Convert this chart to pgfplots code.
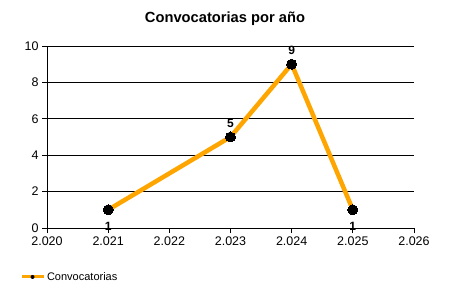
\documentclass[border=0pt]{standalone}
\usepackage{pgfplots}
\pgfplotsset{compat=1.18}
\usepackage{fontspec}
\setmainfont{Liberation Sans}
\definecolor{lineorange}{HTML}{FFA500}
\begin{document}
\begin{tikzpicture}
\path[use as bounding box] (0,0) rectangle (450pt,300pt);
\node[font=\bfseries\fontsize{14.7}{16}\selectfont] at (225pt,281pt) {Convocatorias por año};
\begin{axis}[
  at={(47pt,72pt)}, anchor=south west, scale only axis,
  width=367pt, height=182pt,
  xmin=2020, xmax=2026, ymin=0, ymax=10,
  axis x line*=bottom, axis y line*=left,
  axis line style={black, line width=0.8pt},
  ymajorgrids, grid style={black, line width=0.8pt},
  tick align=outside, major tick length=5pt,
  tick style={black, line width=0.8pt},
  xtick={2020,2021,2022,2023,2024,2025,2026},
  xticklabels={2.020,2.021,2.022,2.023,2.024,2.025,2.026},
  ytick={0,2,4,6,8,10},
  /pgf/number format/assume math mode=true,
  tick label style={font=\fontsize{12.5}{14}\selectfont},
  legend style={at={(-0.074,-0.269)}, anchor=west, draw=none, fill=none,
    font=\fontsize{11}{13}\selectfont, inner xsep=0pt},
  legend cell align=left,
  legend image code/.code={
    \draw[lineorange, line width=3pt] (0pt,0pt) -- (22pt,0pt);
    \path[fill=black, draw=none] (11pt,0pt) circle (2pt);
  },
  clip=false,
]
\addplot[lineorange, line width=4.5pt, mark=*, mark size=5pt,
  mark options={black, fill=black, line width=0pt}]
  coordinates {(2021,1) (2023,5) (2024,9) (2025,1)};
\addlegendentry{Convocatorias}
\addplot[draw=none, mark=none, nodes near coords,
  every node near coord/.append style={font=\bfseries\fontsize{12}{14}\selectfont, anchor=south, yshift=6pt},
  forget plot]
  coordinates {(2023,5) (2024,9)};
\addplot[draw=none, mark=none, nodes near coords,
  every node near coord/.append style={font=\bfseries\fontsize{12}{14}\selectfont, anchor=center, yshift=-17pt},
  forget plot]
  coordinates {(2021,1) (2025,1)};
\end{axis}
\end{tikzpicture}
\end{document}
